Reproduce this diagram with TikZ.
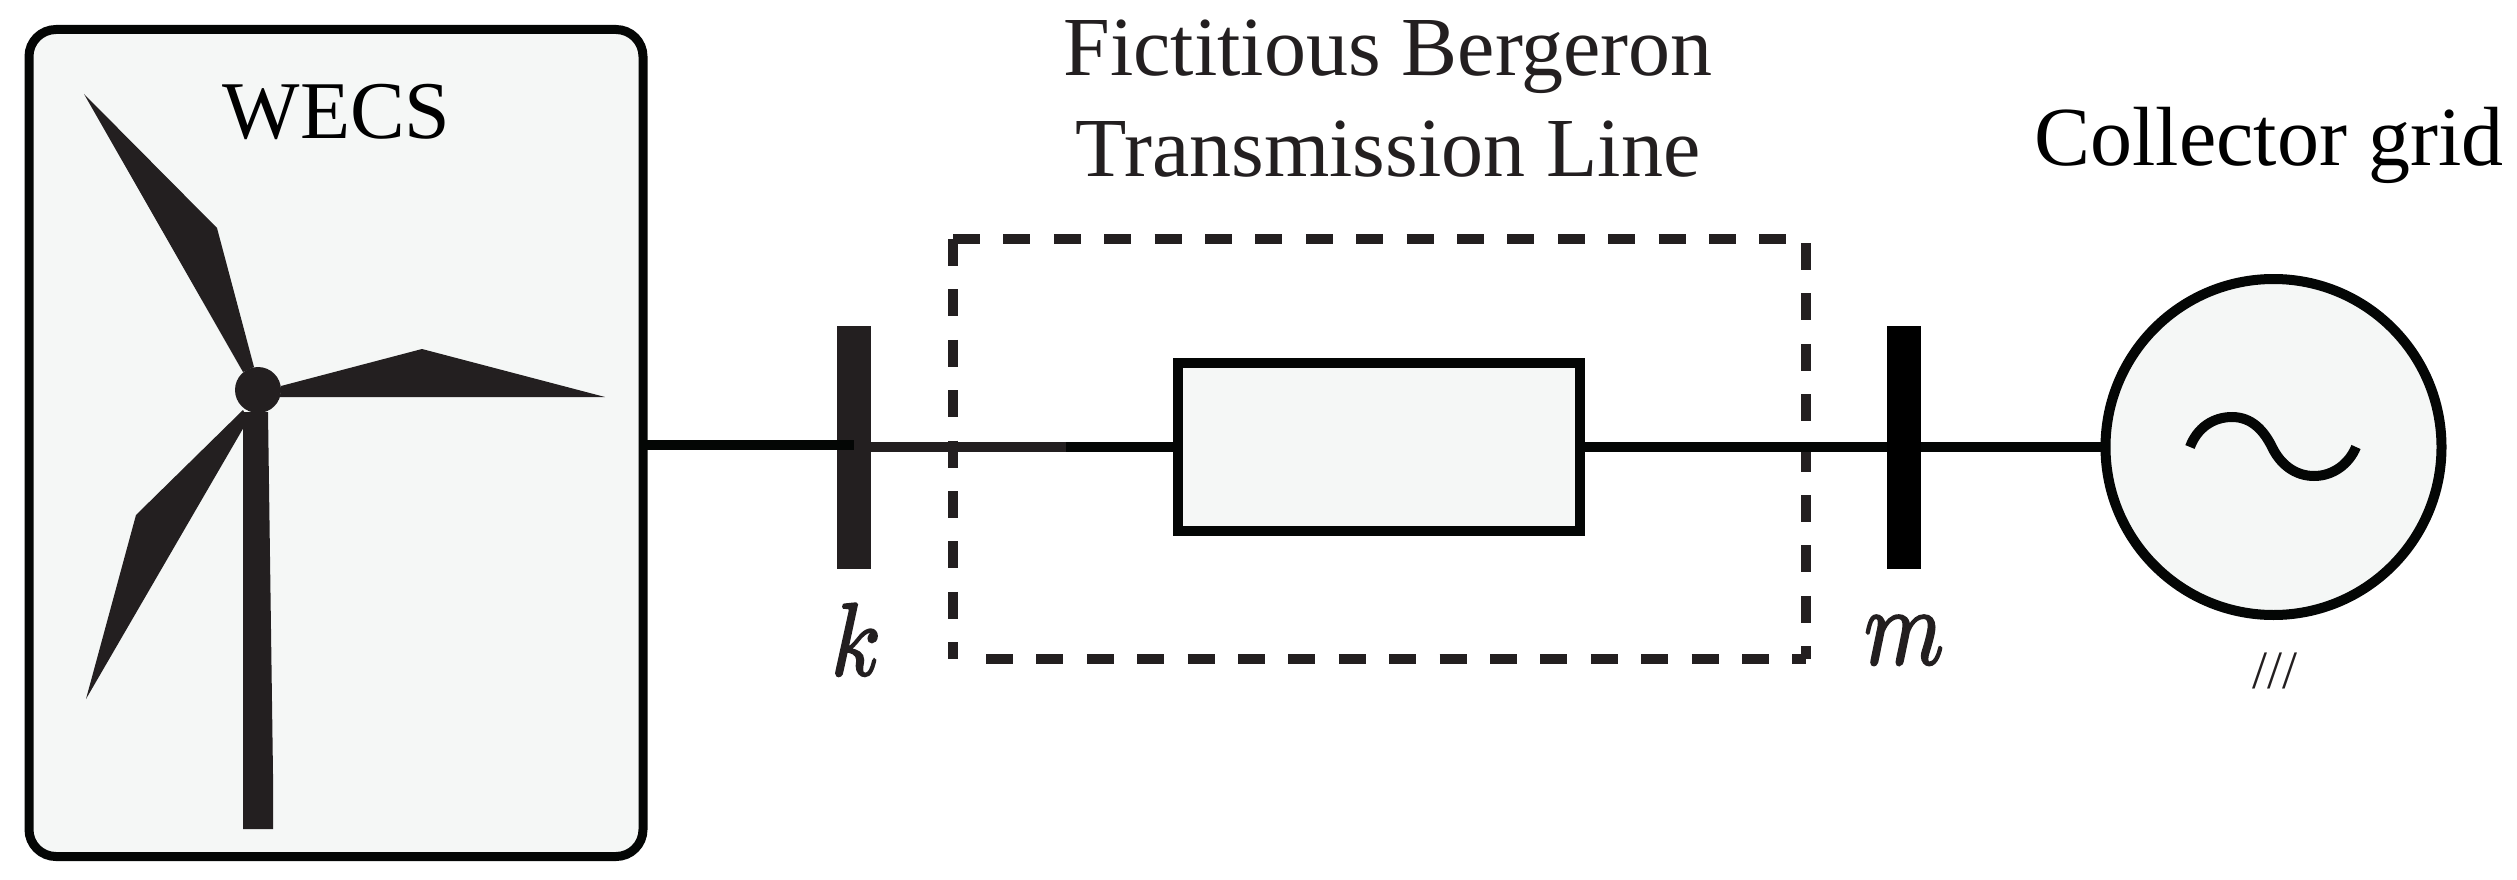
\documentclass[tikz,border=0pt]{standalone}
\usepackage{graphicx}
\usepackage{fontspec}
\setmainfont{Liberation Serif}
\definecolor{ink}{HTML}{231F20}
\definecolor{nearblack}{HTML}{040605}
\definecolor{panel}{HTML}{F5F7F6}
\newcommand{\heavytext}[1]{\special{pdf:code 2 Tr 0.22 w}#1\special{pdf:code 0 Tr}}
\tikzset{
  wire/.style={line width=10pt,draw=nearblack},
  inkwire/.style={line width=10pt,draw=ink},
  panelbox/.style={draw=nearblack,fill=panel,rectangle,inner sep=0pt,outer sep=0pt},
  busbar/.style={rectangle,inner sep=0pt,outer sep=0pt,minimum width=34pt,minimum height=243pt},
  dashline/.style={line width=10pt,draw=ink,dash pattern=on 27pt off 23.4pt},
  txtlabel/.style={anchor=base,inner sep=0pt,outer sep=0pt,font=\fontsize{84}{84}\selectfont,text=ink},
  mathlabel/.style={anchor=base,inner sep=0pt,outer sep=0pt,text=ink},
  blade/.style={fill=ink,draw=none}
}
\begin{document}
\begin{tikzpicture}[x=1pt,y=-1pt]
\useasboundingbox (0,0) rectangle (2517,880);
% WECS
\node[panelbox,line width=9pt,rounded corners=27pt,minimum width=614pt,minimum height=827pt] (wecs) at (336,443) {};
\node[txtlabel,font=\fontsize{82}{82}\selectfont,text=black] (wecstxt) at (336.5,139) {WECS};
% turbine
\fill[blade] (243,412) -- (268,412) -- (273,774) -- (273,829) -- (243,829) -- (243,774) -- cycle;
\fill[blade] (84,94) -- (217,228) -- (254,367) -- (243,372) -- cycle;
\fill[blade] (281,386) -- (422,349) -- (605,397) -- (280,397) -- cycle;
\fill[blade] (243,410) -- (136,515) -- (86,699) -- (248,420) -- cycle;
\fill[blade] (258,390) circle[radius=23pt];
% buses and boxes
\node[busbar,fill=ink] (busk) at (854,447) {};
\node[busbar,fill=black] (busm) at (1903.5,447) {};
\node[panelbox,line width=9.5pt,minimum width=402pt,minimum height=168pt] (tline) at (1379,447) {};
\node[panelbox,circle,line width=10pt,minimum size=336pt] (gen) at (2273.5,447) {};
% dashed enclosure
\coordinate (dtl) at (953,239);
\coordinate (dtr) at (1806,239);
\coordinate (dbl) at (953,659);
\coordinate (dbr) at (1806,659);
\draw[dashline] (dtl) -- (dtr);
\draw[dashline] (dtl) -- (dbl);
\draw[dashline] ([yshift=-4pt]dtr) -- (dbr);
\draw[dashline] ([xshift=33pt]dbl) -- (dbr);
% connectors
\draw[wire] ([yshift=-2pt]wecs.east) -- ([yshift=-2pt]wecs.east -| busk.center);
\coordinate (inkend) at (1066,447);
\draw[inkwire] (busk.center) -- (inkend);
\draw[wire] (inkend) -- (tline.west);
\draw[wire] (tline.east) -- (busm.west);
\draw[wire] (busm.east) -- (gen.west);
% sine
\draw[line width=10pt,draw=nearblack] (2190,447) .. controls (2197,428) and (2213,417) .. (2232,417)
  .. controls (2252,417) and (2264,431) .. (2272,447)
  .. controls (2280,464) and (2295,476) .. (2314,476)
  .. controls (2333,476) and (2349,464) .. (2356,447);
% labels
\node[txtlabel] (t1) at (1388,76) {Fictitious Bergeron};
\node[txtlabel] (t2) at (1388,176) {Transmission Line};
\node[txtlabel,text=black] (t3) at (2269,165) {Collector grid};
\node[txtlabel,font=\fontsize{54}{54}\selectfont] (t4) at (2275,688) {///};
\node[mathlabel] (kl) at (856,675) {\scalebox{9}[10.3]{\heavytext{$k$}}};
\node[mathlabel] (ml) at (1904,664) {\scalebox{9.1}[11]{\heavytext{$m$}}};
\end{tikzpicture}
\end{document}
